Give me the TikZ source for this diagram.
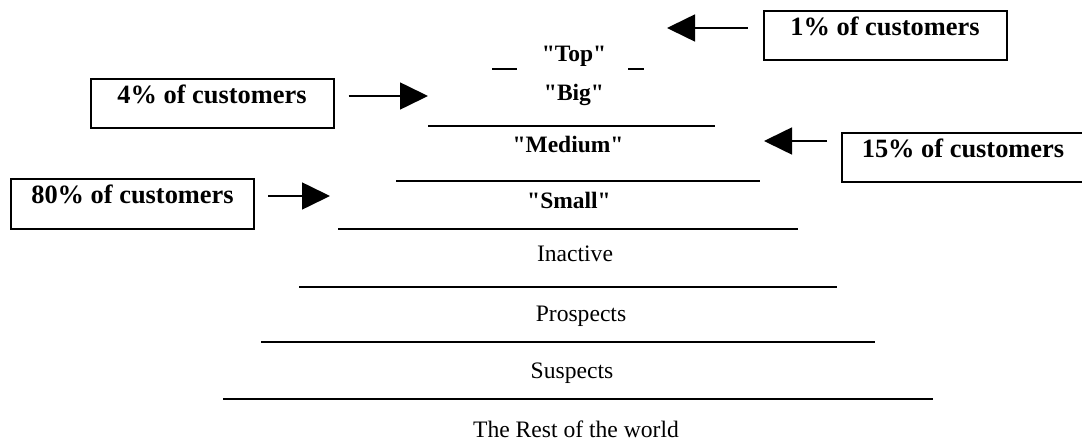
\documentclass[tikz,border=0pt]{standalone}
\usepackage{fontspec}
% straight double quotes are kept as typed
\setmainfont{Liberation Serif}[Ligatures=TeXOff]
\usetikzlibrary{arrows.meta}
\begin{document}
\begin{tikzpicture}[x=1pt,y=-1pt,
  tier/.style={font=\fontsize{23.5}{28}\selectfont\bfseries, inner sep=0pt, anchor=base},
  outer/.style={font=\fontsize{23.6}{28}\selectfont, inner sep=0pt, anchor=base},
  custbox/.style={draw, line width=2pt, font=\fontsize{26.4}{30}\selectfont\bfseries,
    inner sep=0pt, minimum width=243pt, text height=24.5pt, text depth=24.5pt, anchor=base},
  rung/.style={line width=2.2pt},
  pointer/.style={line width=1.6pt, -{Triangle[length=28pt,width=27pt]}},
]
\useasboundingbox (0,0) rectangle (1082,441);

% ladder labels
\node[tier]  (top)   at (574,62)  {"Top"};
\node[tier]  (big)   at (574,101) {"Big"};
\node[tier]  (med)   at (568,153) {"Medium"};
\node[tier]  (small) at (569,208) {"Small"};
\node[outer] (inact) at (575,261) {Inactive};
\node[outer] (prosp) at (581,321) {Prospects};
\node[outer] (susp)  at (572,378) {Suspects};
\node[outer] (rest)  at (576,437) {The Rest of the world};

% rungs of the ladder
\coordinate (u1l) at (492,69);  \coordinate (u1r) at (517,69);
\coordinate (u2l) at (628,69);  \coordinate (u2r) at (644,69);
\coordinate (r1l) at (428,126); \coordinate (r1r) at (715,126);
\coordinate (r2l) at (396,181); \coordinate (r2r) at (760,181);
\coordinate (r3l) at (338,229); \coordinate (r3r) at (798,229);
\coordinate (r4l) at (299,287); \coordinate (r4r) at (837,287);
\coordinate (r5l) at (261,342); \coordinate (r5r) at (875,342);
\coordinate (r6l) at (223,399); \coordinate (r6r) at (933,399);
\foreach \a/\b in {u1l/u1r,u2l/u2r,r1l/r1r,r2l/r2r,r3l/r3r,r4l/r4r,r5l/r5r,r6l/r6r}
  \draw[rung] (\a) -- (\b);

% share boxes
\node[custbox] (b1)  at (885,36)    {1\% of customers};
\node[custbox] (b4)  at (212,104)   {4\% of customers};
\node[custbox] (b15) at (963,158)   {15\% of customers};
\node[custbox] (b80) at (132.5,204) {80\% of customers};

% pointers from the boxes to the tiers
\coordinate (p1)  at (667,28);
\coordinate (p4)  at (428,96);
\coordinate (p15) at (764,141);
\coordinate (p80) at (330,196);
\draw[pointer, shorten <=15pt]   (b1.west |- p1)   -- (p1);
\draw[pointer, shorten <=14pt]   (b4.east |- p4)   -- (p4);
\draw[pointer, shorten <=13.5pt] (b15.west |- p15) -- (p15);
\draw[pointer, shorten <=13pt]   (b80.east |- p80) -- (p80);
\end{tikzpicture}
\end{document}
